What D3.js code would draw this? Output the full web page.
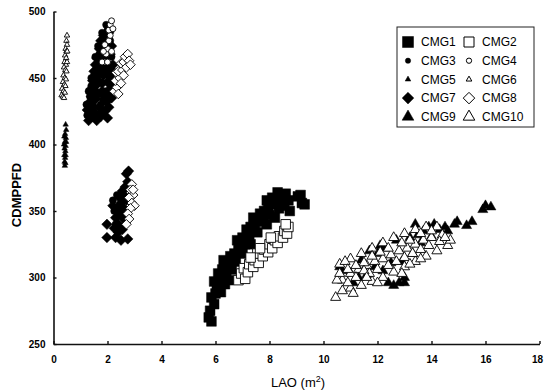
<!DOCTYPE html>
<html>
<head>
<meta charset="utf-8">
<script src="https://cdn.jsdelivr.net/npm/d3@7"></script>
<style>
  body { margin: 0; background: #fff; }
  text { font-family: "Liberation Sans", Arial, sans-serif; fill: #000; }
</style>
</head>
<body>
<div id="chart"></div>
<script>
// Data: [LAO (m2), CDMPPFD]
//=================================
var cmg1 = [[5.75,270],[5.85,267],[5.8,275],[5.95,280],[5.85,285],[6.0,288],[6.05,293],[5.95,297],[6.15,298],
  [6.1,303],[6.25,306],[6.3,313],[6.45,310],[6.4,300],[6.6,306],[6.55,316],[6.7,318],[6.85,322],[6.8,328],
  [7.0,330],[7.1,325],[7.15,336],[7.3,338],[7.25,331],[7.45,340],[7.4,345],[7.6,342],[7.65,348],[7.8,350],
  [7.75,344],[7.95,352],[8.0,347],[8.15,355],[8.1,360],[8.3,358],[8.35,352],[8.5,360],[8.6,363],[8.7,358],
  [8.55,354],[9.05,361],[9.2,356],[9.15,362],[9.3,355],[6.2,289],[6.35,295],[6.5,298],[6.75,312],[7.0,318],
  [7.3,325],[7.55,334],[7.9,340],[8.2,345],[8.75,350],[8.3,364],[7.9,358]];
var cmg2 = [[6.85,298],[6.95,303],[7.1,299],[7.05,307],[7.2,304],[7.25,310],[7.4,308],[7.45,313],[7.6,311],
  [7.55,318],[7.75,316],[7.8,321],[7.95,319],[8.0,325],[8.1,322],[8.2,328],[8.3,326],[8.35,331],[8.5,330],
  [8.55,335],[8.65,333],[8.7,338],[8.6,340],[7.3,315],[7.65,322],[8.05,330]];
var cmg3 = [[1.3,428],[1.35,436],[1.4,444],[1.45,431],[1.5,452],[1.55,440],[1.6,460],[1.65,448],[1.7,468],
  [1.75,456],[1.8,476],[1.85,464],[1.9,482],[1.95,472],[2.0,486],[1.6,423],[1.75,430],[1.9,440],[2.0,455],
  [2.1,478],[1.45,420],[1.25,422],[2.15,466],[1.7,438],[1.22,430],[1.3,440],[1.4,450],[1.55,466],
  [1.65,474],[1.8,484],[1.95,490],[2.2,358],[2.25,350],[2.35,362],[2.3,340]];
var cmg4 = [[1.9,462],[1.95,468],[2.0,472],[1.85,470],[2.05,478],[2.1,482],[2.05,486],[2.1,490],[2.15,493],
  [2.15,470],[1.9,475],[2.2,487],[1.8,462],[2.0,462]];
var cmg5 = [[0.45,415],[0.47,411],[0.43,408],[0.46,405],[0.42,402],[0.45,399],[0.41,397],[0.44,395],
  [0.40,392],[0.43,390],[0.41,387],[0.44,386],[0.39,400],[0.47,402],[0.40,406],[0.45,392],[0.42,384]];
var cmg6 = [[0.50,482],[0.48,478],[0.50,475],[0.45,472],[0.48,470],[0.43,467],[0.47,465],[0.41,462],
  [0.46,460],[0.39,458],[0.44,456],[0.48,455],[0.37,452],[0.42,450],[0.46,449],[0.35,447],[0.40,445],
  [0.44,444],[0.32,442],[0.37,440],[0.42,439],[0.30,437],[0.35,436],[0.39,435],[0.50,462],[0.51,470]];
var cmg7 = [[1.3,418],[1.45,425],[1.6,418],[1.75,421],[1.9,425],[2.05,428],[1.35,432],[1.55,434],[1.7,428],
  [1.85,434],[2.0,438],[2.15,435],[1.4,442],[1.6,445],[1.8,446],[2.0,447],[2.2,445],[1.5,455],[1.7,455],
  [1.9,458],[2.1,457],[1.6,465],[1.8,468],[2.0,466],[2.2,460],[1.75,478],[1.95,476],[2.15,474],[2.05,484],
  [1.25,426],[1.4,436],[1.5,428],[1.65,438],[1.8,440],[1.95,432],[2.1,442],[1.45,448],[1.65,452],
  [1.85,452],[2.05,452],[1.55,460],[1.75,462],[1.95,462],[2.15,450],[1.7,472],[1.9,470],[2.1,468],
  [1.85,482],[2.0,480],[1.35,425],[2.0,420],
  [1.98,340],[1.98,330],[2.3,330],[2.5,328],[2.75,329],[2.25,337],[2.4,340],[2.55,336],[2.3,345],[2.45,348],
  [2.6,344],[2.35,352],[2.5,356],[2.6,352],[2.45,360],[2.6,362],[2.7,358],[2.65,368],[2.75,372],[2.7,378],
  [2.78,380],[2.55,365],[2.2,354],[2.4,334]];
var cmg8 = [[2.25,440],[2.35,443],[2.3,448],[2.45,450],[2.4,455],[2.55,456],[2.5,461],[2.6,462],[2.65,466],
  [2.75,468],[2.8,463],[2.7,458],[2.6,452],[2.5,446],[2.4,438],[2.85,460],
  [2.9,370],[2.85,366],[2.95,362],[2.8,360],[2.9,356],[3.0,354],[2.85,352],[2.75,348],[2.8,344],[2.7,340],[2.95,366]];
var cmg9 = [[10.6,308],[10.7,305],[11.3,300],[11.6,302],[12.1,324],[12.0,318],[12.4,296],[12.6,294],
  [12.8,296],[13.0,300],[12.3,322],[12.7,328],[13.2,330],[13.5,332],[13.7,335],[13.9,338],[14.1,340],
  [14.3,336],[14.5,338],[14.85,340],[14.95,342],[15.3,339],[15.5,342],[15.9,351],[16.2,353],[16.0,354],
  [13.3,318],[12.9,312],[11.9,308],[11.4,313],[13.6,326],[12.2,305],[11.1,296],[14.0,331],
  [11.7,320],[12.5,311],[13.4,340],[14.6,335],[13.0,296]];
var cmg10 = [[10.45,285],[10.7,290],[11.0,292],[11.4,294],[11.8,297],[12.2,300],[12.6,304],[13.0,308],
  [13.4,312],[13.8,316],[14.2,320],[14.6,324],[10.6,310],[11.0,314],[11.4,318],[11.8,322],[12.2,326],
  [12.6,330],[13.0,333],[13.4,336],[13.8,338],[14.2,338],[10.7,298],[11.0,303],[11.3,306],[11.6,309],
  [11.9,312],[12.2,314],[12.5,317],[12.8,320],[13.1,322],[13.4,325],[13.7,328],[14.0,330],[14.4,332],
  [14.7,328],[10.9,296],[11.2,300],[11.5,311],[11.7,303],[12.0,306],[12.4,309],[12.7,312],[13.0,315],
  [13.3,318],[13.6,321],[13.9,324],[14.3,327],[10.5,298],[10.8,312],
  [10.6,303],[10.9,306],[11.2,309],[11.5,305],[11.8,316],[12.1,319],[12.4,322],[12.9,326],[13.2,328],
  [13.6,333],[14.0,335],[14.5,330],[11.1,288],[11.6,300],[12.0,296],[12.9,303],[13.2,310],[13.6,314]];

var xTicks = [0, 2, 4, 6, 8, 10, 12, 14, 16, 18];
var yTicks = [250, 300, 350, 400, 450, 500];
var seriesNames = ["CMG1", "CMG2", "CMG3", "CMG4", "CMG5", "CMG6", "CMG7", "CMG8", "CMG9", "CMG10"];

//Canvas
//=================================
var svgWidth = 544;
var svgHeight = 392;
var margin = { top: 11.5, right: 4, bottom: 48, left: 53.5 };
var width = svgWidth - margin.left - margin.right;
var height = svgHeight - margin.top - margin.bottom;

var svg = d3.select("#chart")
  .append("svg")
  .attr("width", svgWidth)
  .attr("height", svgHeight);

var chartGroup = svg.append("g")
  .attr("transform", `translate(${margin.left}, ${margin.top})`);

// diamond as a square turned 45 degrees
var symbolRhomb = {
  draw: function(ctx, size) {
    var r = Math.sqrt(size / 2);
    ctx.moveTo(0, -r);
    ctx.lineTo(r, 0);
    ctx.lineTo(0, r);
    ctx.lineTo(-r, 0);
    ctx.closePath();
  }
};

// marker style per series: [type, plot size, legend size, filled]
var markers = {
  CMG1: [d3.symbolSquare, 95, 121, true],
  CMG2: [d3.symbolSquare, 90, 100, false],
  CMG3: [d3.symbolCircle, 40, 22, true],
  CMG4: [d3.symbolCircle, 28, 22, false],
  CMG5: [d3.symbolTriangle, 13, 14, true],
  CMG6: [d3.symbolTriangle, 13, 14, false],
  CMG7: [symbolRhomb, 55, 68, true],
  CMG8: [symbolRhomb, 46, 66, false],
  CMG9: [d3.symbolTriangle, 44, 60, true],
  CMG10: [d3.symbolTriangle, 44, 58, false]
};

var seriesData = {
  CMG1: cmg1, CMG2: cmg2, CMG3: cmg3, CMG4: cmg4, CMG5: cmg5,
  CMG6: cmg6, CMG7: cmg7, CMG8: cmg8, CMG9: cmg9, CMG10: cmg10
};

//Scales and axes
//=================================
var xLinearScale = d3.scaleLinear().domain([0, 18]).range([0, width - 0.5]);
var yLinearScale = d3.scaleLinear().domain([250, 500]).range([height, 0]);

var bottomAxis = d3.axisBottom(xLinearScale)
  .tickValues(xTicks).tickSizeInner(-3).tickSizeOuter(0).tickPadding(12);
var leftAxis = d3.axisLeft(yLinearScale)
  .tickValues(yTicks).tickSizeInner(-3).tickSizeOuter(0).tickPadding(8);

var xAxis = chartGroup.append("g")
  .attr("transform", `translate(0, ${height})`)
  .call(bottomAxis);
var yAxis = chartGroup.append("g").call(leftAxis);

[xAxis, yAxis].forEach(function(ax) {
  ax.select(".domain").attr("stroke", "#111").attr("stroke-width", 1.6);
  ax.selectAll(".tick line").attr("stroke", "#111").attr("stroke-width", 1.4);
  ax.selectAll(".tick text")
    .attr("font-family", "'Liberation Sans', Arial, sans-serif")
    .attr("font-size", 10)
    .attr("font-weight", "bold")
    .attr("fill", "#000");
});

// last x label sits on the right edge, keep it inside the page
xAxis.selectAll(".tick text")
  .filter(d => d === 18)
  .attr("text-anchor", "end")
  .attr("x", 3);

//Points: filled ones first, open ones on top
//=================================
var drawOrder = ["CMG1", "CMG3", "CMG5", "CMG7", "CMG9", "CMG2", "CMG4", "CMG6", "CMG8", "CMG10"];
drawOrder.forEach(function(name) {
  var m = markers[name];
  chartGroup.append("g")
    .selectAll("path")
    .data(seriesData[name])
    .enter()
    .append("path")
    .attr("transform", d => `translate(${xLinearScale(d[0])}, ${yLinearScale(d[1])})`)
    .attr("d", d3.symbol().type(m[0]).size(m[1]))
    .attr("fill", m[3] ? "#000" : "#fff")
    .attr("stroke", "#000")
    .attr("stroke-width", m[3] ? 0.5 : 0.9);
});

//Axis titles
//=================================
var xTitle = svg.append("text")
  .attr("x", 298)
  .attr("y", 387)
  .attr("text-anchor", "middle")
  .attr("font-size", 13);
xTitle.append("tspan").text("LAO (m");
xTitle.append("tspan").attr("font-size", 9).attr("dy", -5).text("2");
xTitle.append("tspan").attr("dy", 5).text(")");

svg.append("text")
  .attr("transform", "translate(21, 195) rotate(-90)")
  .attr("text-anchor", "middle")
  .attr("font-size", 13)
  .attr("font-weight", "bold")
  .text("CDMPPFD");

//Legend
//=================================
var legend = svg.append("g").attr("transform", "translate(397, 27)");
legend.append("rect")
  .attr("width", 137)
  .attr("height", 100)
  .attr("fill", "#fff")
  .attr("stroke", "#222")
  .attr("stroke-width", 1);

seriesNames.forEach(function(name, i) {
  var m = markers[name];
  var col = i % 2;
  var row = Math.floor(i / 2);
  var item = legend.append("g")
    .attr("transform", `translate(${11 + col * 61}, ${15 + row * 18.7})`);
  item.append("path")
    .attr("d", d3.symbol().type(m[0]).size(m[2]))
    .attr("fill", m[3] ? "#000" : "#fff")
    .attr("stroke", "#000")
    .attr("stroke-width", m[3] ? 0.5 : 1);
  item.append("text")
    .attr("x", 13)
    .attr("y", 4.3)
    .attr("font-size", 12)
    .text(name);
});
</script>
</body>
</html>
